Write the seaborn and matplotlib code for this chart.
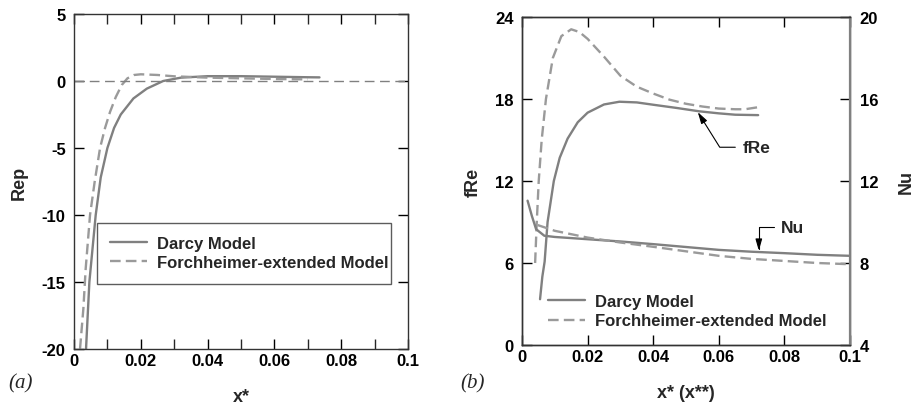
import numpy as np
import matplotlib
matplotlib.use("Agg")
import matplotlib.pyplot as plt
import matplotlib.ticker as mticker
from matplotlib.lines import Line2D
import seaborn as sns
import pandas as pd

# ---- data ----
# (a) pressure Reynolds number Rep vs x*
rep_darcy_x = [0.0036, 0.0046, 0.0065, 0.0080, 0.0100, 0.0120, 0.0140, 0.0178, 0.0218,
               0.0267, 0.0320, 0.0400, 0.0500, 0.0600, 0.0700, 0.0735]
rep_darcy_y = [-20, -15, -10, -7.2, -5, -3.5, -2.5, -1.3, -0.57, 0.0, 0.25, 0.36, 0.36,
               0.32, 0.28, 0.27]
rep_forch_x = [0.0018, 0.0028, 0.0035, 0.0048, 0.0062, 0.0078, 0.0093, 0.0108, 0.0125,
               0.0143, 0.0160, 0.0180, 0.0200, 0.0250, 0.0300, 0.0400, 0.0500, 0.0600, 0.0700]
rep_forch_y = [-20, -17, -14, -10, -7.5, -5, -3.5, -2.3, -1.2, -0.3, 0.2, 0.45, 0.5, 0.45,
               0.35, 0.25, 0.2, 0.15, 0.12]

# (b) fRe (left axis) and Nu (right axis) vs x* (x**)
fre_darcy_x = [0.0055, 0.0062, 0.0069, 0.0078, 0.0097, 0.0115, 0.0139, 0.0170, 0.0200,
               0.0250, 0.0297, 0.0350, 0.0400, 0.0470, 0.0540, 0.0600, 0.0650, 0.0720]
fre_darcy_y = [3.35, 5.0, 6.1, 9.0, 12.0, 13.7, 15.1, 16.3, 17.0, 17.6, 17.8, 17.75, 17.58,
               17.35, 17.1, 16.95, 16.85, 16.82]
fre_forch_x = [0.0040, 0.0045, 0.0051, 0.0060, 0.0073, 0.0094, 0.0120, 0.0150, 0.0175,
               0.0200, 0.0250, 0.0300, 0.0350, 0.0400, 0.0450, 0.0500, 0.0550, 0.0600,
               0.0650, 0.0680, 0.0720]
fre_forch_y = [6.0, 9.0, 12.0, 15.0, 18.0, 21.0, 22.6, 23.1, 22.9, 22.4, 21.1, 19.7, 18.9,
               18.4, 17.95, 17.65, 17.45, 17.3, 17.25, 17.25, 17.4]

nu_darcy_x = [0.0017, 0.0030, 0.0043, 0.0068, 0.010, 0.020, 0.030, 0.040, 0.050, 0.060,
              0.070, 0.080, 0.090, 0.100]
nu_darcy_y = [11.04, 10.3, 9.65, 9.33, 9.27, 9.16, 9.05, 8.92, 8.78, 8.64, 8.55, 8.48, 8.4, 8.35]
nu_forch_x = [0.0048, 0.010, 0.020, 0.030, 0.040, 0.050, 0.060, 0.070, 0.080, 0.090, 0.100]
nu_forch_y = [9.85, 9.57, 9.24, 9.0, 8.79, 8.57, 8.35, 8.2, 8.1, 8.0, 7.94]

x_ticks = [0, 0.02, 0.04, 0.06, 0.08, 0.1]
x_ticklabels = ["0", "0.02", "0.04", "0.06", "0.08", "0.1"]
rep_ticks = [-20, -15, -10, -5, 0, 5]
fre_ticks = [0, 6, 12, 18, 24]
nu_ticks = [4, 8, 12, 16, 20]

labels = ["Darcy Model", "Forchheimer-extended Model"]

# ---- style ----
sns.set_style("ticks")
plt.rcParams["font.family"] = ["Liberation Sans", "DejaVu Sans"]
plt.rcParams["font.weight"] = "bold"
plt.rcParams["axes.unicode_minus"] = False
plt.rcParams["axes.linewidth"] = 1.0
plt.rcParams["axes.edgecolor"] = "#333333"

gray = "#808080"
gray2 = "#9a9a9a"
lw = 1.7
dash = (4.5, 2.2)
tick_fs = 12
lab_fs = 13
leg_fs = 12

fig = plt.figure(figsize=(9.16, 4.06), dpi=100)
ax1 = fig.add_axes([74 / 916, 56 / 406, 334 / 916, 335 / 406])
ax2 = fig.add_axes([522 / 916, 60 / 406, 328 / 916, 328 / 406])


def style_ticks(ax, top=True, right=True):
    ax.tick_params(direction="in", length=7, width=1.0, colors="black",
                   labelsize=tick_fs, top=top, right=right)
    ax.tick_params(axis="y", pad=6)
    ax.tick_params(axis="x", pad=3)
    for lab in ax.get_xticklabels() + ax.get_yticklabels():
        lab.set_fontweight("bold")


# ---- panel (a) ----
df_a1 = pd.DataFrame({"x": rep_darcy_x, "y": rep_darcy_y})
df_a2 = pd.DataFrame({"x": rep_forch_x, "y": rep_forch_y})
sns.lineplot(data=df_a1, x="x", y="y", ax=ax1, color=gray, lw=lw, sort=False, estimator=None)
sns.lineplot(data=df_a2, x="x", y="y", ax=ax1, color=gray2, lw=lw, sort=False,
             estimator=None, linestyle=(0, dash))
ax1.axhline(0, color=gray, lw=1.0, dashes=(7, 4))
ax1.set_xlim(0, 0.1)
ax1.set_ylim(-20, 5)
ax1.set_xticks(x_ticks)
ax1.set_xticklabels(x_ticklabels)
ax1.xaxis.set_minor_locator(mticker.MultipleLocator(0.01))
ax1.tick_params(which="minor", direction="in", length=7, width=1.0, top=True)
ax1.set_yticks(rep_ticks)
style_ticks(ax1)
ax1.set_xlabel("x*", fontsize=lab_fs, fontweight="bold", labelpad=14)
ax1.set_ylabel("Rep", fontsize=lab_fs, fontweight="bold", labelpad=10)

h_a = [Line2D([], [], color=gray, lw=lw),
       Line2D([], [], color=gray2, lw=lw, linestyle=(0, dash))]
leg = ax1.legend(h_a, labels, loc="upper left", bbox_to_anchor=(0.069, 0.377, 0.88, 0.0),
                 mode="expand", frameon=True, fancybox=False, prop={"weight": "bold", "size": leg_fs},
                 handlelength=2.2, handletextpad=0.6, borderpad=0.8, labelspacing=0.25,
                 borderaxespad=0)
leg.get_frame().set_edgecolor("#333333")
leg.get_frame().set_linewidth(1.0)

fig.text(8 / 916, 1 - 384 / 406, "(a)", family=["Liberation Serif"], style="italic",
         fontweight="normal", fontsize=15, va="center")

# ---- panel (b) ----
ax3 = ax2.twinx()
ax3.set_position(ax2.get_position())
sns.lineplot(x=fre_darcy_x, y=fre_darcy_y, ax=ax2, color=gray, lw=lw, sort=False, estimator=None)
sns.lineplot(x=fre_forch_x, y=fre_forch_y, ax=ax2, color=gray2, lw=lw, sort=False,
             estimator=None, linestyle=(0, dash))
sns.lineplot(x=nu_darcy_x, y=nu_darcy_y, ax=ax3, color=gray, lw=lw, sort=False, estimator=None)
sns.lineplot(x=nu_forch_x, y=nu_forch_y, ax=ax3, color=gray2, lw=lw, sort=False,
             estimator=None, linestyle=(0, dash))

ax2.set_xlim(0, 0.1)
ax2.set_ylim(0, 24)
ax3.set_ylim(4, 20)
ax2.set_xticks(x_ticks)
ax2.set_xticklabels(x_ticklabels)
ax2.set_yticks(fre_ticks)
ax3.set_yticks(nu_ticks)
style_ticks(ax2, top=True, right=False)
style_ticks(ax3, top=False, right=True)
ax3.tick_params(axis="y", pad=7)
ax3.spines["right"].set_color(gray)
ax3.spines["right"].set_linewidth(1.6)
ax2.set_xlabel("x* (x**)", fontsize=lab_fs, fontweight="bold", labelpad=14)
ax2.set_ylabel("fRe", fontsize=lab_fs, fontweight="bold", labelpad=10)
ax3.set_ylabel("Nu", fontsize=lab_fs, fontweight="bold", labelpad=14)

arrow = dict(arrowstyle="-|>,head_length=0.7,head_width=0.2", color="black", lw=0.8,
             mutation_scale=10, shrinkA=3, shrinkB=0)
ax2.annotate("fRe", xy=(0.0536, 17.04), xytext=(0.0673, 14.47), va="center", ha="left",
             fontsize=12.5, fontweight="bold",
             arrowprops=dict(arrow, connectionstyle="angle,angleA=0,angleB=-58,rad=0"))
ax2.annotate("Nu", xy=(0.0722, 6.9), xytext=(0.079, 8.6), va="center", ha="left",
             fontsize=12.5, fontweight="bold",
             arrowprops=dict(arrow, connectionstyle="angle,angleA=0,angleB=90,rad=0"))

h_b = [Line2D([], [], color=gray, lw=lw),
       Line2D([], [], color=gray2, lw=lw, linestyle=(0, dash))]
ax2.legend(h_b, labels, loc="lower left", bbox_to_anchor=(0.06, 0.03), frameon=False,
           prop={"weight": "bold", "size": leg_fs}, handlelength=2.2, handletextpad=0.6,
           labelspacing=0.25, borderaxespad=0)

fig.text(460 / 916, 1 - 384 / 406, "(b)", family=["Liberation Serif"], style="italic",
         fontweight="normal", fontsize=15, va="center")

fig.savefig("out.png", dpi=100)
